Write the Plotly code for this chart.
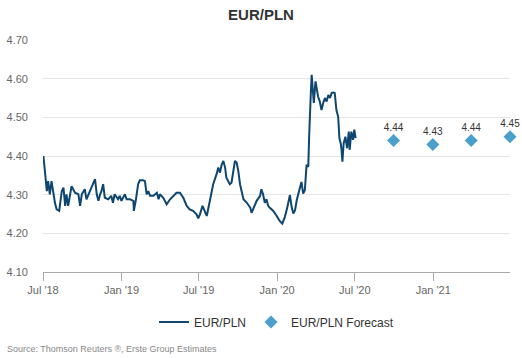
import plotly.graph_objects as go

hist_dates = [
    "2018-07-02", "2018-07-06", "2018-07-10", "2018-07-13", "2018-07-17", "2018-07-21", "2018-07-25", "2018-07-29",
    "2018-08-02", "2018-08-08", "2018-08-14", "2018-08-18", "2018-08-22", "2018-08-25", "2018-08-29",
    "2018-09-02", "2018-09-06", "2018-09-14", "2018-09-22", "2018-09-26", "2018-09-30",
    "2018-10-07", "2018-10-11", "2018-10-19", "2018-10-27", "2018-10-31",
    "2018-11-04", "2018-11-08", "2018-11-12", "2018-11-15", "2018-11-19", "2018-11-23",
    "2018-12-01", "2018-12-08", "2018-12-12", "2018-12-16", "2018-12-24", "2018-12-28",
    "2019-01-01", "2019-01-09", "2019-01-13", "2019-01-21", "2019-01-29", "2019-01-30",
    "2019-02-04", "2019-02-09", "2019-02-13", "2019-02-21", "2019-02-25",
    "2019-03-01", "2019-03-05", "2019-03-09", "2019-03-17", "2019-03-25", "2019-03-29",
    "2019-04-01", "2019-04-09", "2019-04-17", "2019-04-25",
    "2019-05-02", "2019-05-10", "2019-05-18", "2019-05-26",
    "2019-06-03", "2019-06-10", "2019-06-18", "2019-06-26", "2019-06-30",
    "2019-07-04", "2019-07-10", "2019-07-16", "2019-07-20", "2019-07-28",
    "2019-08-04", "2019-08-12", "2019-08-16", "2019-08-20", "2019-08-24", "2019-08-28",
    "2019-09-01", "2019-09-04", "2019-09-12", "2019-09-16", "2019-09-20", "2019-09-24", "2019-09-28",
    "2019-10-02", "2019-10-06", "2019-10-14", "2019-10-22", "2019-10-30",
    "2019-11-02", "2019-11-06", "2019-11-14", "2019-11-22", "2019-11-25", "2019-11-29",
    "2019-12-03", "2019-12-07", "2019-12-11", "2019-12-15", "2019-12-23", "2019-12-31",
    "2020-01-07", "2020-01-13", "2020-01-19", "2020-01-25", "2020-01-31",
    "2020-02-04", "2020-02-08", "2020-02-12", "2020-02-16", "2020-02-22", "2020-02-27",
    "2020-03-02", "2020-03-06", "2020-03-10", "2020-03-14", "2020-03-16", "2020-03-18",
    "2020-03-20", "2020-03-22", "2020-03-24", "2020-03-27", "2020-03-31",
    "2020-04-02", "2020-04-06", "2020-04-10", "2020-04-14", "2020-04-18", "2020-04-22",
    "2020-04-26", "2020-04-30",
    "2020-05-04", "2020-05-08", "2020-05-12", "2020-05-15", "2020-05-19", "2020-05-23",
    "2020-05-26", "2020-05-29", "2020-05-31",
    "2020-06-02", "2020-06-05", "2020-06-09", "2020-06-13", "2020-06-17", "2020-06-19",
    "2020-06-23", "2020-06-27", "2020-06-30", "2020-07-03",
]
hist_values = [
    4.400, 4.353, 4.309, 4.335, 4.301, 4.335, 4.301, 4.279,
    4.262, 4.258, 4.309, 4.318, 4.271, 4.301, 4.271,
    4.292, 4.322, 4.305, 4.301, 4.271, 4.301,
    4.314, 4.288, 4.309, 4.327, 4.340,
    4.301, 4.284, 4.301, 4.309, 4.327, 4.292,
    4.288, 4.297, 4.279, 4.301, 4.288, 4.297,
    4.284, 4.301, 4.288, 4.288, 4.284, 4.258,
    4.288, 4.327, 4.337, 4.337, 4.335,
    4.301, 4.309, 4.297, 4.297, 4.305, 4.288,
    4.301, 4.292, 4.275, 4.288,
    4.297, 4.305, 4.305, 4.292,
    4.271, 4.262, 4.258, 4.249, 4.239,
    4.249, 4.271, 4.258, 4.245, 4.288,
    4.327, 4.353, 4.370, 4.357, 4.378, 4.387,
    4.370, 4.344, 4.327, 4.331, 4.361, 4.387, 4.383,
    4.361, 4.327, 4.288, 4.279, 4.266,
    4.253, 4.262, 4.284, 4.297, 4.314, 4.301,
    4.279, 4.288, 4.271, 4.266, 4.258, 4.245,
    4.232, 4.225, 4.242, 4.268, 4.299,
    4.268, 4.251, 4.260, 4.286, 4.312, 4.333,
    4.303, 4.312, 4.377, 4.372, 4.450, 4.528,
    4.563, 4.610, 4.571, 4.537, 4.593,
    4.580, 4.554, 4.541, 4.519, 4.537, 4.550,
    4.541, 4.558,
    4.550, 4.563, 4.564, 4.563, 4.519, 4.502,
    4.446, 4.433, 4.416,
    4.385, 4.433, 4.450, 4.420, 4.463, 4.416,
    4.463, 4.442, 4.468, 4.446,
]

fc_dates = ["2020-09-30", "2020-12-31", "2021-03-31", "2021-06-30"]
fc_values = [4.44, 4.43, 4.44, 4.45]

tick_dates = ["2018-07-01", "2019-01-01", "2019-07-01", "2020-01-01", "2020-07-01", "2021-01-01"]
tick_labels = ["Jul '18", "Jan '19", "Jul '19", "Jan '20", "Jul '20", "Jan '21"]
y_ticks = [4.10, 4.20, 4.30, 4.40, 4.50, 4.60, 4.70]

FONT = "Liberation Sans, Arial, sans-serif"

fig = go.Figure()
fig.add_trace(go.Scatter(
    x=hist_dates, y=hist_values, mode="lines", name="EUR/PLN",
    line=dict(color="#0e466f", width=2),
))
fig.add_trace(go.Scatter(
    x=fc_dates, y=fc_values, mode="markers+text", name="EUR/PLN Forecast",
    marker=dict(symbol="diamond", size=10, color="#4a9fcb"),
    text=[f"{v:.2f}" for v in fc_values], textposition="top center",
    textfont=dict(size=10, color="#333333", family=FONT),
    cliponaxis=False,
))

fig.update_layout(
    width=522, height=358,
    margin=dict(l=43, r=12, t=40, b=86, autoexpand=False),
    paper_bgcolor="white", plot_bgcolor="white",
    font=dict(family=FONT, color="#666666", size=11),
    title=dict(text="<b>EUR/PLN</b>", x=0.5, xanchor="center", y=1 - 15 / 358, yanchor="middle",
               font=dict(size=15, color="#333333", family=FONT)),
    showlegend=True,
    legend=dict(orientation="h", x=0.5, xanchor="center", y=-0.215, yanchor="middle",
                font=dict(size=12, color="#333333", family=FONT)),
    annotations=[dict(
        text="Source: Thomson Reuters ®, Erste Group Estimates",
        xref="paper", yref="paper", x=-0.0814, y=-0.332, xanchor="left", yanchor="middle",
        showarrow=False, font=dict(size=9, color="#888888", family=FONT),
    )],
)
fig.update_xaxes(
    range=["2018-07-01", "2021-06-30"], tickvals=tick_dates, ticktext=tick_labels,
    showgrid=False, showline=True, linecolor="#aaaaaa", linewidth=1,
    ticks="outside", ticklen=8, tickcolor="#aaaaaa", zeroline=False, automargin=False,
    tickfont=dict(size=11, color="#666666"),
)
fig.update_yaxes(
    range=[4.10, 4.70], tickvals=y_ticks, tickformat=".2f",
    showgrid=True, gridcolor="#e6e6e6", zeroline=False, showline=False, automargin=False,
    ticklabelstandoff=14, tickfont=dict(size=11, color="#666666"),
)

fig.write_html("out.html", config={"displayModeBar": False},
               post_script="document.body.style.margin='0';")
